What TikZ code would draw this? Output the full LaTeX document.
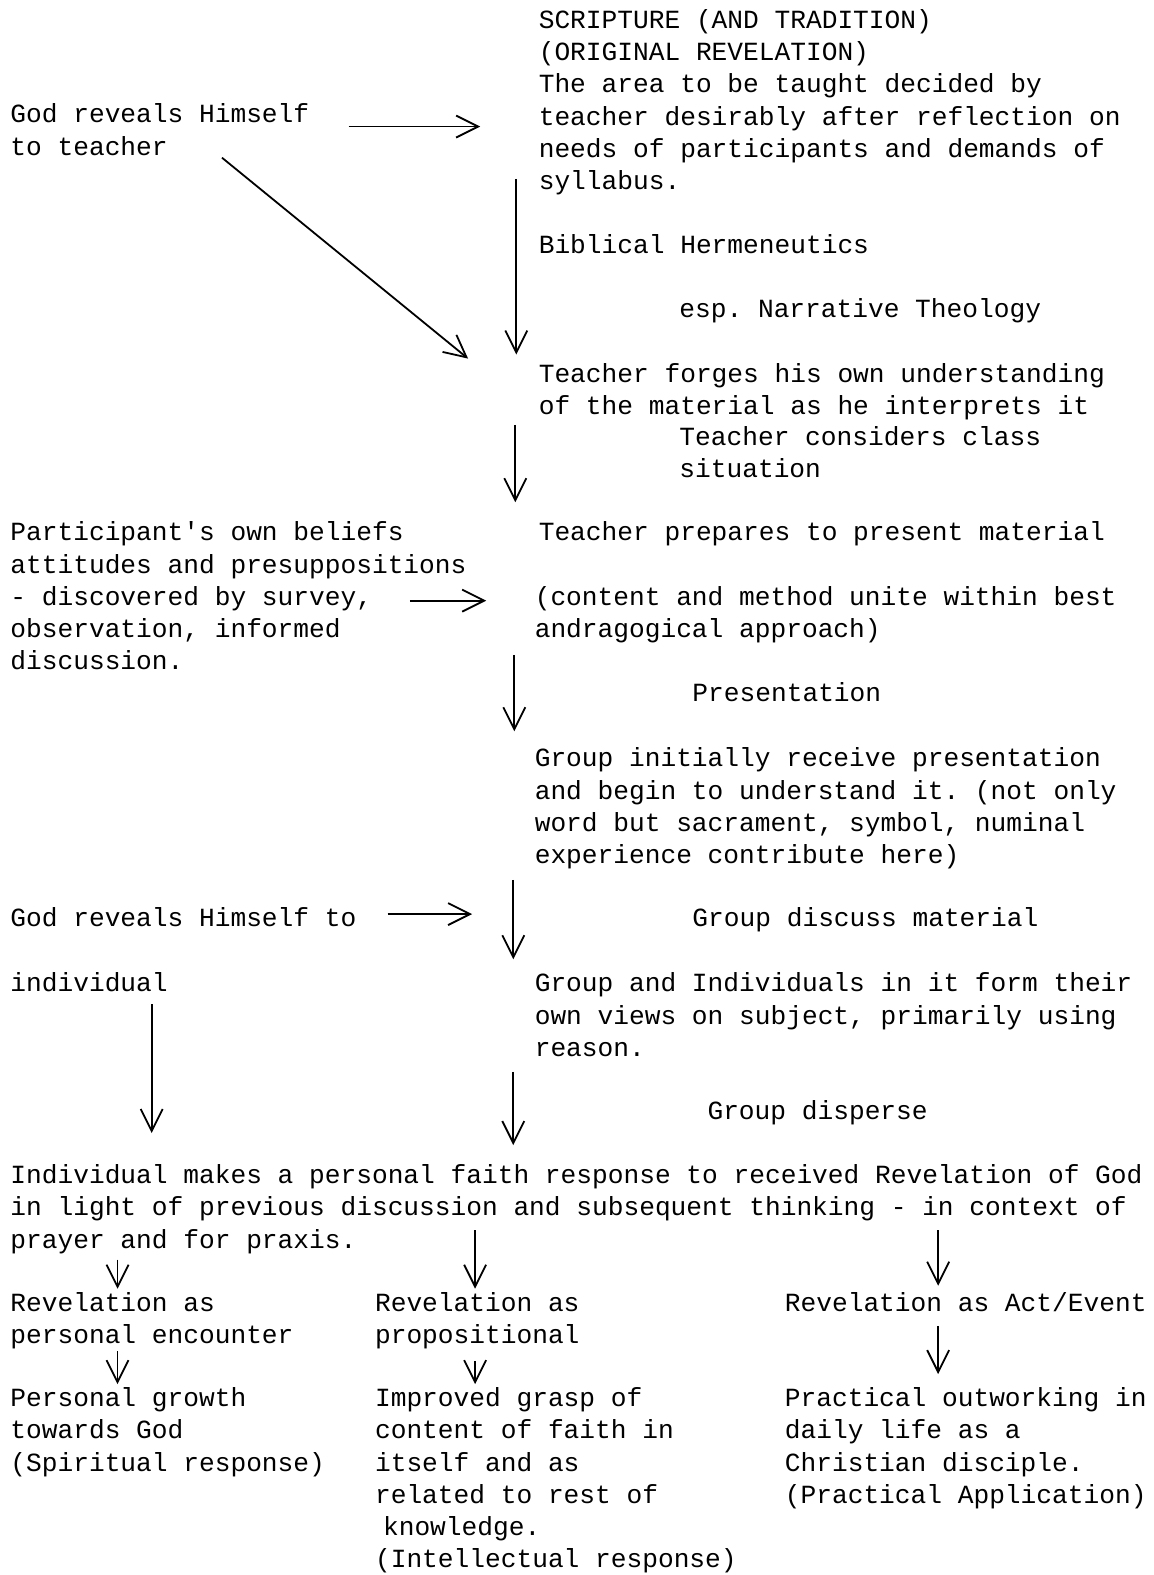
\documentclass[tikz,border=0pt]{standalone}
\usepackage{fontspec}
\setmonofont{Liberation Mono}
\usetikzlibrary{arrows.meta}
\begin{document}
\begin{tikzpicture}[x=0.5022pt,y=-0.5022pt,
  txt/.style={anchor=north west, inner sep=0pt, align=left, font=\ttfamily\fontsize{13.1}{16.1}\selectfont},
  arr/.style={-{Straight Barb[length=11pt,width=11pt]}, line width=0.9pt}]
\useasboundingbox (0,0) rectangle (1148,1568);
% right column
\node[txt] (scripture) at (536,5.6) {\strut SCRIPTURE (AND TRADITION)\\(ORIGINAL REVELATION)\\The area to be taught decided by\\teacher desirably after reflection on\\needs of participants and demands of\\syllabus.};
\node[txt] (herm) at (536,229.6) {\strut Biblical Hermeneutics};
\node[txt] (narr) at (676,293.6) {\strut esp. Narrative Theology};
\node[txt] (forges) at (536,357.6) {\strut Teacher forges his own understanding\\of the material as he interprets it};
\node[txt] (considers) at (676,420.6) {\strut Teacher considers class\\situation};
\node[txt] (prepares) at (536,515.6) {\strut Teacher prepares to present material};
\node[txt] (content) at (532,579.6) {\strut (content and method unite within best\\andragogical approach)};
\node[txt] (present) at (689,675.6) {\strut Presentation};
\node[txt] (receive) at (532,740.6) {\strut Group initially receive presentation\\and begin to understand it. (not only\\word but sacrament, symbol, numinal\\experience contribute here)};
\node[txt] (discuss) at (689,899.6) {\strut Group discuss material};
\node[txt] (views) at (532,964.6) {\strut Group and Individuals in it form their\\own views on subject, primarily using\\reason.};
\node[txt] (disperse) at (704,1091.6) {\strut Group disperse};
% left column
\node[txt] (godteach) at (10,99.6) {\strut God reveals Himself\\to teacher};
\node[txt] (beliefs) at (10,515.6) {\strut Participant's own beliefs\\attitudes and presuppositions\\- discovered by survey,\\observation, informed\\discussion.};
\node[txt] (godind) at (10,899.6) {\strut God reveals Himself to};
\node[txt] (indiv) at (10,964.6) {\strut individual};
% bottom
\node[txt] (response) at (10,1155.6) {\strut Individual makes a personal faith response to received Revelation of God\\in light of previous discussion and subsequent thinking - in context of\\prayer and for praxis.};
\node[txt] (rev1) at (10,1282.6) {\strut Revelation as\\personal encounter};
\node[txt] (rev2) at (373,1282.6) {\strut Revelation as\\propositional};
\node[txt] (rev3) at (781,1282.6) {\strut Revelation as Act/Event};
\node[txt] (out1) at (10,1377.6) {\strut Personal growth\\towards God\\(Spiritual response)};
\node[txt] (out2) at (373,1377.6) {\strut Improved grasp of\\content of faith in\\itself and as\\related to rest of\\\hspace*{4pt}knowledge.\\(Intellectual response)};
\node[txt] (out3) at (781,1377.6) {\strut Practical outworking in\\daily life as a\\Christian disciple.\\(Practical Application)};
% connector end points
\coordinate (a1s) at (347,126);  \coordinate (a1e) at (478,126);
\coordinate (a2s) at (221,157);  \coordinate (a2e) at (466,357);
\coordinate (a3s) at (514,178);  \coordinate (a3e) at (514,353);
\coordinate (a4s) at (513,423);  \coordinate (a4e) at (513,500);
\coordinate (a5s) at (408,598);  \coordinate (a5e) at (484,598);
\coordinate (a6s) at (512,652);  \coordinate (a6e) at (512,728);
\coordinate (a7s) at (386,910);  \coordinate (a7e) at (470,910);
\coordinate (a8s) at (511,876);  \coordinate (a8e) at (511,955);
\coordinate (a9s) at (151,1000); \coordinate (a9e) at (151,1128);
\coordinate (a10s) at (511,1067); \coordinate (a10e) at (511,1140);
\coordinate (a11s) at (117,1254); \coordinate (a11e) at (117,1283);
\coordinate (a12s) at (473,1225); \coordinate (a12e) at (473,1283);
\coordinate (a13s) at (934,1225); \coordinate (a13e) at (934,1280);
\coordinate (a14s) at (117,1345); \coordinate (a14e) at (117,1378);
\coordinate (a15s) at (473,1355); \coordinate (a15e) at (473,1378);
\coordinate (a16s) at (934,1320); \coordinate (a16e) at (934,1368);
\foreach \i in {1,...,16} {\draw[arr] (a\i s) -- (a\i e);}
\end{tikzpicture}
\end{document}
